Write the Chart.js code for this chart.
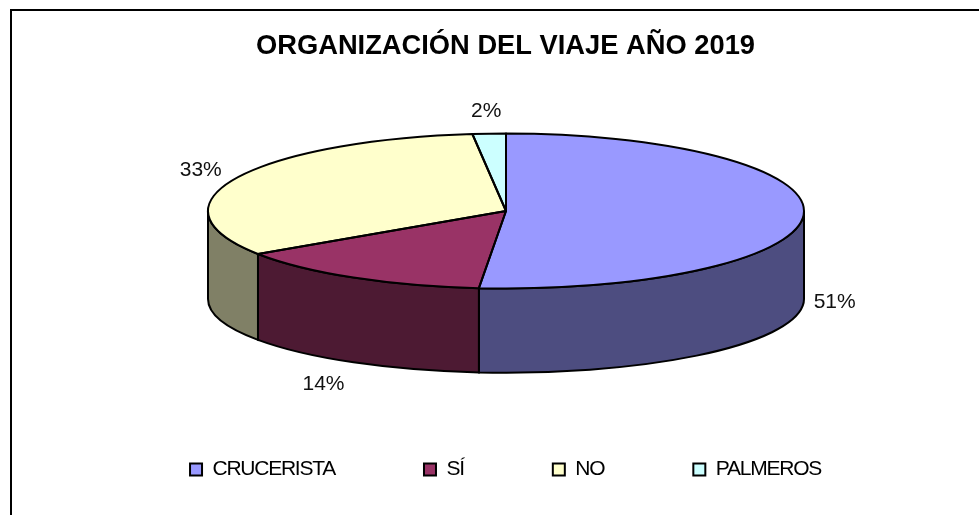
<!DOCTYPE html>
<html>
<head>
<meta charset="utf-8">
<title>Organización del viaje</title>
<script src="https://cdn.jsdelivr.net/npm/chart.js@4"></script>
<style>
    html, body { margin: 0; padding: 0; background: #fff; overflow: hidden; }
    #frame { position: absolute; left: 10px; top: 9px; right: 0; bottom: 0; border-left: 2px solid #000; border-top: 2px solid #000; }
    canvas { position: absolute; left: 0; top: 0; }
</style>
</head>
<body>
<div id="frame"></div>
<canvas id="pieChart" width="979" height="515"></canvas>
<script>
const categories = ['CRUCERISTA', 'SÍ', 'NO', 'PALMEROS'];
const shares = [51.45, 14.2, 32.55, 1.8];
const topColors = ['#9999FF', '#993366', '#FFFFCC', '#CCFFFF'];
const wallColors = ['#4D4D80', '#4D1A33', '#808066', '#668080'];

const FONT = '"Liberation Sans", Arial, sans-serif';
const LEGEND_SPACING = '-1.25px';
const centerX = 506;
const centerY = 211;
const radiusX = 298;
const radiusY = 77.5;
const floorY = 299;
const floorRadiusY = 73.7;
// label shift from the rim point at the middle of each slice
const labelShift = [[31, 0], [-30, 22], [-35, -8], [-3, -22]];

// squashes the pie into an ellipse and adds the side wall
const pie3d = {
    id: 'pie3d',
    beforeLayout(chart) {
        chart.ctx.letterSpacing = LEGEND_SPACING;
    },
    afterLayout(chart) {
        chart.ctx.letterSpacing = '0px';
    },
    beforeDraw(chart) {
        // only the legend text is set tight, the title keeps normal spacing
        const legend = chart.legend;
        if (legend.tightened) return;
        const drawLegend = legend.draw;
        legend.draw = function() {
            chart.ctx.letterSpacing = LEGEND_SPACING;
            drawLegend.call(legend);
            chart.ctx.letterSpacing = '0px';
        };
        legend.tightened = true;
    },
    beforeDatasetsDraw(chart) {
        const ctx = chart.ctx;
        const arcs = chart.getDatasetMeta(0).data;
        ctx.save();
        ctx.strokeStyle = '#000';
        ctx.lineWidth = 2;
        arcs.forEach((arc, i) => {
            const a0 = Math.max(arc.startAngle, 0);
            const a1 = Math.min(arc.endAngle, Math.PI);
            if (a1 <= a0) return;
            ctx.beginPath();
            ctx.ellipse(centerX, centerY, radiusX, radiusY, 0, a0, a1);
            ctx.ellipse(centerX, floorY, radiusX, floorRadiusY, 0, a1, a0, true);
            ctx.closePath();
            ctx.fillStyle = wallColors[i];
            ctx.fill();
            ctx.stroke();
        });
        ctx.restore();

        ctx.save();
        ctx.translate(centerX - arcs[0].x, centerY);
        ctx.scale(1, radiusY / radiusX);
        ctx.translate(0, -arcs[0].y);
    },
    afterDatasetsDraw(chart) {
        const ctx = chart.ctx;
        ctx.restore();

        const arcs = chart.getDatasetMeta(0).data;
        const total = shares.reduce((acc, curr) => acc + curr, 0);
        ctx.save();
        ctx.strokeStyle = '#000';
        ctx.lineWidth = 2;
        ctx.lineJoin = 'round';
        arcs.forEach(arc => {
            ctx.beginPath();
            ctx.moveTo(centerX, centerY);
            ctx.ellipse(centerX, centerY, radiusX, radiusY, 0, arc.startAngle, arc.endAngle);
            ctx.closePath();
            ctx.stroke();
        });

        ctx.font = '21px ' + FONT;
        ctx.fillStyle = '#111';
        ctx.textAlign = 'center';
        ctx.textBaseline = 'middle';
        arcs.forEach((arc, i) => {
            const mid = (arc.startAngle + arc.endAngle) / 2;
            const rimX = centerX + radiusX * Math.cos(mid);
            const rimY = Math.sin(mid) >= 0
                ? floorY + floorRadiusY * Math.sin(mid)
                : centerY + radiusY * Math.sin(mid);
            const text = Math.round(shares[i] / total * 100) + '%';
            ctx.fillText(text, rimX + labelShift[i][0], rimY + labelShift[i][1]);
        });
        ctx.restore();
    }
};

const pieChart = new Chart(document.getElementById('pieChart').getContext('2d'), {
    type: 'pie',
    data: {
        labels: categories,
        datasets: [{
            data: shares,
            backgroundColor: topColors,
            borderWidth: 0,
            clip: false
        }]
    },
    options: {
        responsive: false,
        animation: false,
        radius: radiusX,
        layout: { padding: { left: 32, right: 0, top: 30, bottom: 25 } },
        plugins: {
            tooltip: { enabled: false },
            title: {
                display: true,
                text: 'ORGANIZACIÓN DEL VIAJE AÑO 2019',
                color: '#000',
                font: { family: FONT, size: 27.3, weight: 'bold' },
                padding: 0
            },
            legend: {
                position: 'bottom',
                labels: {
                    boxWidth: 12,
                    boxHeight: 12,
                    padding: 89,
                    color: '#111',
                    font: { family: FONT, size: 21 },
                    generateLabels(chart) {
                        return categories.map((name, i) => ({
                            text: name,
                            fillStyle: topColors[i],
                            strokeStyle: '#000',
                            lineWidth: 2,
                            index: i
                        }));
                    }
                }
            }
        }
    },
    plugins: [pie3d]
});
</script>
</body>
</html>
